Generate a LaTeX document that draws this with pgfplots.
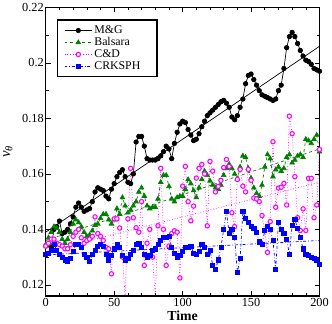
\documentclass[border=0pt]{standalone}
\usepackage{fontspec}
\setmainfont{Liberation Serif}
\usepackage{pgfplots}
\usepackage{pgfplotstable}
\pgfplotsset{compat=1.18}
\definecolor{balgreen}{RGB}{0,128,0}
\definecolor{cdmag}{RGB}{255,0,255}
\definecolor{crkblue}{RGB}{0,0,255}

% v_theta vs time, four runs
\pgfplotstableread{
t   mg     bal    cd     crk
0   0.134  0.1345 0.134  0.131
2   0.1345 0.137  0.135  0.1315
4   0.1335 0.139  0.1365 0.1325
6   0.140  0.141  0.1365 0.1345
8   0.141  0.1405 0.135  0.1325
10  0.143  0.139  0.1345 0.131
12  0.1385 0.1365 0.134  0.130
14  0.139  0.135  0.133  0.129
16  0.140  0.1365 0.133  0.1285
18  0.142  0.139  0.1345 0.1295
20  0.1445 0.142  0.1375 0.132
22  0.148  0.1435 0.139  0.1345
24  0.1495 0.1425 0.140  0.1345
26  0.148  0.141  0.137  0.1335
28  0.1465 0.139  0.135  0.131
30  0.147  0.1375 0.136  0.130
32  0.1475 0.138  0.1365 0.1285
34  0.150  0.1395 0.1375 0.131
36  0.1535 0.1415 0.1445 0.1325
38  0.155  0.142  0.1385 0.134
40  0.1545 0.144  0.1375 0.1345
42  0.154  0.1455 0.136  0.134
44  0.152  0.1455 0.1335 0.131
46  0.151  0.1435 0.133  0.129
48  0.1545 0.142  0.124  0.1305
50  0.1565 0.1435 0.1438 0.133
52  0.159  0.1475 0.1438 0.1345
54  0.1605 0.1455 0.1405 0.1335
56  0.1615 0.1515 0.130  0.1305
58  0.159  0.1485 0.1158 0.129
60  0.157  0.146  0.1438 0.1295
62  0.1565 0.147  0.162  0.131
64  0.160  0.1485 0.1442 0.1325
66  0.1715 0.150  0.1406 0.1345
68  0.1735 0.1535 0.139  0.135
70  0.1735 0.155  0.150  0.1335
72  0.170  0.152  0.127  0.131
74  0.1655 0.1485 0.135  0.130
76  0.165  0.1475 0.140  0.1305
78  0.165  0.148  0.130  0.1325
80  0.165  0.148  0.1158 0.133
82  0.1655 0.151  0.1413 0.1345
84  0.1665 0.157  0.162  0.136
86  0.168  0.1595 0.140  0.137
88  0.170  0.1595 0.127  0.137
90  0.169  0.1555 0.134  0.1375
92  0.1655 0.151  0.1385 0.1335
94  0.171  0.150  0.1395 0.1315
96  0.175  0.1515 0.139  0.130
98  0.178  0.152  0.1225 0.1305
100 0.179  0.152  0.1556 0.132
102 0.1785 0.1545 0.1627 0.1335
104 0.176  0.158  0.150  0.1335
106 0.174  0.1565 0.1431 0.134
108 0.172  0.154  0.1484 0.1315
110 0.1725 0.1515 0.1585 0.131
112 0.1745 0.155  0.162  0.132
114 0.177  0.158  0.1634 0.1345
116 0.179  0.161  0.160  0.1335
118 0.181  0.1595 0.1413 0.131
120 0.182  0.1575 0.1645 0.1325
122 0.183  0.156  0.161  0.127
124 0.184  0.155  0.1535 0.1255
126 0.185  0.1545 0.1555 0.129
128 0.186  0.156  0.1577 0.1335
130 0.1865 0.1595 0.1623 0.140
132 0.1855 0.162  0.1652 0.1465
134 0.184  0.1635 0.1627 0.1385
136 0.1805 0.162  0.146  0.140
138 0.1795 0.160  0.141  0.137
140 0.181  0.158  0.158  0.1245
142 0.184  0.1625 0.1616 0.1295
144 0.187  0.1665 0.1556 0.1465
146 0.1925 0.166  0.1535 0.144
148 0.1955 0.162  0.1616 0.1425
150 0.196  0.1585 0.1577 0.141
152 0.194  0.155  0.1513 0.1405
154 0.192  0.153  0.151  0.139
156 0.190  0.152  0.150  0.1355
158 0.1885 0.156  0.145  0.1345
160 0.188  0.1625 0.1395 0.1395
162 0.1875 0.167  0.1317 0.141
164 0.187  0.1655 0.1428 0.140
166 0.1865 0.159  0.1716 0.136
168 0.187  0.1615 0.148  0.1255
170 0.190  0.1625 0.1549 0.1425
172 0.192  0.161  0.1552 0.140
174 0.198  0.162  0.1566 0.1385
176 0.2055 0.166  0.1488 0.1365
178 0.2095 0.167  0.1808 0.131
180 0.211  0.164  0.1745 0.1415
182 0.2095 0.165  0.159  0.1435
184 0.207  0.1665 0.1442 0.1405
186 0.2045 0.167  0.1396 0.137
188 0.2025 0.166  0.1474 0.133
190 0.201  0.1725 0.1396 0.131
192 0.2005 0.172  0.1584 0.1305
194 0.1995 0.171  0.1584 0.130
196 0.198  0.1725 0.1442 0.1295
198 0.1975 0.174  0.1488 0.129
200 0.197  0.168  0.1688 0.1275
}\vdata

\begin{document}
\begin{tikzpicture}
\begin{axis}[
    width=278pt, height=293pt, scale only axis,
    xmin=0, xmax=200, ymin=0.116, ymax=0.22,
    xtick={0,50,100,150,200}, minor x tick num=4,
    ytick={0.12,0.14,0.16,0.18,0.2,0.22}, minor y tick num=1,
    tick pos=both, tick align=inside,
    major tick length=5pt, minor tick length=3pt,
    axis line style={line width=1.3pt},
    every tick/.style={black, line width=0.6pt},
    scaled y ticks=false,
    yticklabel style={/pgf/number format/fixed, /pgf/number format/precision=2, xshift=1.5pt},
    /pgf/number format/assume math mode=true,
    tick label style={font=\fontsize{12.5}{14}\selectfont},
    xticklabel style={yshift=1pt},
    xlabel={\textbf{Time}},
    xlabel style={font=\fontsize{14}{16}\selectfont, yshift=3pt},
    ylabel={\textit{v}\textsubscript{\textit{θ}}},
    ylabel style={font=\fontsize{15}{16}\selectfont, yshift=3pt},
    legend style={at={(0.04,0.959)}, anchor=north west, draw=black,
        line width=1.3pt, font=\fontsize{12}{13}\selectfont,
        inner xsep=7pt, inner ysep=4pt, row sep=-1.5pt},
    legend cell align=left,
    legend image post style={line width=0.6pt},
    legend image code/.code={\draw[mark repeat=2,mark phase=2]
        plot coordinates {(0pt,0pt)(14pt,0pt)(28pt,0pt)};},
]
\addplot[black, line width=0.7pt, mark=*, mark size=2.3pt]
    table[x=t, y=mg]{\vdata};
\addplot[balgreen, line width=0.7pt, dashed, mark=triangle*, mark size=2.7pt,
    mark options={solid}] table[x=t, y=bal]{\vdata};
\addplot[cdmag, line width=0.7pt, dotted, mark=*, mark size=2.2pt,
    mark options={solid, fill=white, line width=1.1pt}] table[x=t, y=cd]{\vdata};
\addplot[crkblue, line width=0.7pt, dash dot, mark=square*, mark size=2.1pt,
    mark options={solid}] table[x=t, y=crk]{\vdata};
\legend{M\&G, Balsara, C\&D, CRKSPH\hspace*{8pt}}

% linear fits
\addplot[black, line width=0.7pt, forget plot] coordinates {(0,0.139) (200,0.206)};
\addplot[balgreen, line width=0.7pt, dashed, forget plot] coordinates {(0,0.136) (200,0.169)};
\addplot[cdmag, line width=0.7pt, dotted, forget plot] coordinates {(0,0.132) (200,0.157)};
\addplot[crkblue, line width=0.7pt, dash dot, forget plot] coordinates {(0,0.1308) (200,0.136)};
\end{axis}
\end{tikzpicture}
\end{document}
